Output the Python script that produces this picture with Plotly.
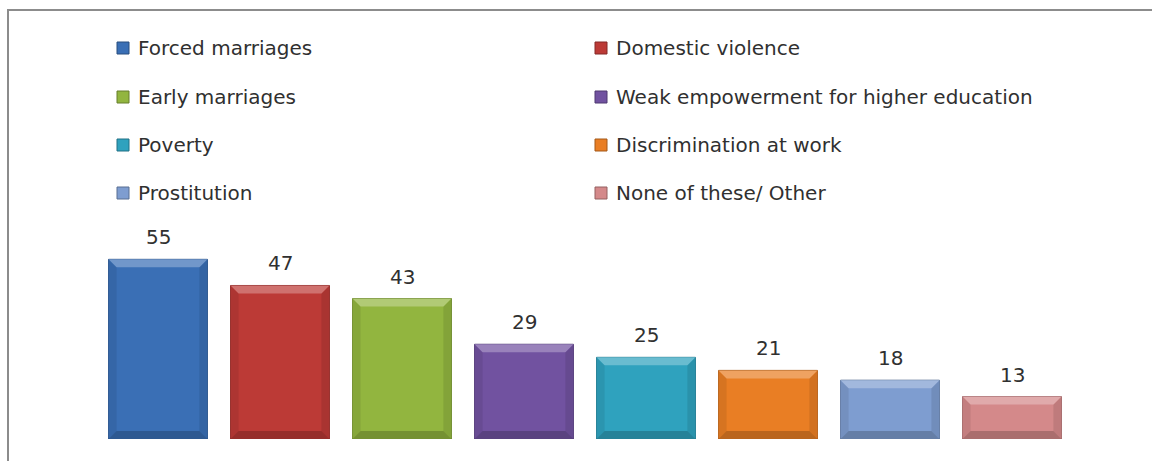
import plotly.graph_objects as go

# Survey results: problems faced by women (percent of respondents)
categories = [
    "Forced marriages",
    "Domestic violence",
    "Early marriages",
    "Weak empowerment for higher education",
    "Poverty",
    "Discrimination at work",
    "Prostitution",
    "None of these/ Other",
]
values = [55, 47, 43, 29, 25, 21, 18, 13]
colors = ["#3A6FB5", "#BC3A36", "#92B53F", "#7152A0", "#2FA2BE", "#E97E24", "#7E9DD0", "#D4898A"]

W, H = 1152, 461
FONT = "DejaVu Sans"
TEXT = "#303030"

# plot area in pixels
X0, X1 = 97, 1073
Y_BASE, Y_TOP = 439, 243
Y_MAX = 60


def px(x):
    return x / W


def py(y):
    return 1 - y / H


def mix(hex_color, other, t):
    c = [int(hex_color[i:i + 2], 16) for i in (1, 3, 5)]
    o = [int(other[i:i + 2], 16) for i in (1, 3, 5)]
    m = [round(a + (b - a) * t) for a, b in zip(c, o)]
    return "#%02x%02x%02x" % tuple(m)


n = len(categories)
xs = list(range(n))
bargap = 0.19
half = (1 - bargap) / 2
slot_px = (X1 - X0) / n
unit_px = (Y_BASE - Y_TOP) / Y_MAX
bev_x = 8 / slot_px
bev_y = 8 / unit_px

fig = go.Figure()
fig.add_trace(go.Bar(
    x=xs, y=values,
    marker=dict(color=colors, line=dict(color=[mix(c, "#000000", 0.3) for c in colors], width=1)),
    width=1 - bargap,
    showlegend=False, hoverinfo="skip",
))

shapes = []
annotations = []

# bevelled edges on each bar
for x, v, c in zip(xs, values, colors):
    l, r = x - half, x + half
    top = [(l, v), (r, v), (r - bev_x, v - bev_y), (l + bev_x, v - bev_y)]
    bottom = [(l, 0), (r, 0), (r - bev_x, bev_y), (l + bev_x, bev_y)]
    left = [(l, 0), (l, v), (l + bev_x, v - bev_y), (l + bev_x, bev_y)]
    right = [(r, 0), (r, v), (r - bev_x, v - bev_y), (r - bev_x, bev_y)]
    for pts, col in ((left, mix(c, "#000000", 0.08)), (right, mix(c, "#000000", 0.1)),
                     (bottom, mix(c, "#000000", 0.2)), (top, mix(c, "#ffffff", 0.28))):
        path = "M " + " L ".join(f"{a},{b}" for a, b in pts) + " Z"
        shapes.append(dict(type="path", xref="x", yref="y", path=path,
                           fillcolor=col, line=dict(width=0), layer="above"))
    annotations.append(dict(x=x, y=v, xref="x", yref="y", text=str(v), showarrow=False,
                            yanchor="bottom", yshift=8,
                            font=dict(family=FONT, size=20, color=TEXT)))

# legend laid out in two columns, row by row
col_x = [117, 595]
row_y = [48, 97, 145, 193]
for i, (name, c) in enumerate(zip(categories, colors)):
    mx = col_x[i % 2]
    my = row_y[i // 2]
    shapes.append(dict(type="rect", xref="paper", yref="paper",
                       x0=px(mx), x1=px(mx + 12), y0=py(my + 6), y1=py(my - 6),
                       fillcolor=c, line=dict(color=mix(c, "#000000", 0.3), width=1)))
    annotations.append(dict(x=px(mx + 19), y=py(my), xref="paper", yref="paper",
                            text=name, showarrow=False, xanchor="left", yanchor="middle",
                            font=dict(family=FONT, size=20, color=TEXT)))

# chart frame (left and top edges)
shapes.append(dict(type="path", xref="paper", yref="paper",
                   path=f"M {px(8)},{py(H)} L {px(8)},{py(10)} L {px(W)},{py(10)}",
                   line=dict(color="#8c8c8c", width=2)))

fig.update_layout(
    width=W, height=H,
    margin=dict(l=0, r=0, t=0, b=0),
    paper_bgcolor="white", plot_bgcolor="white",
    xaxis=dict(domain=[px(X0), px(X1)], range=[-0.5, n - 0.5], visible=False),
    yaxis=dict(domain=[py(Y_BASE), py(Y_TOP)], range=[0, Y_MAX], visible=False),
    shapes=shapes, annotations=annotations,
    bargap=bargap,
)

fig.write_html("out.html")
